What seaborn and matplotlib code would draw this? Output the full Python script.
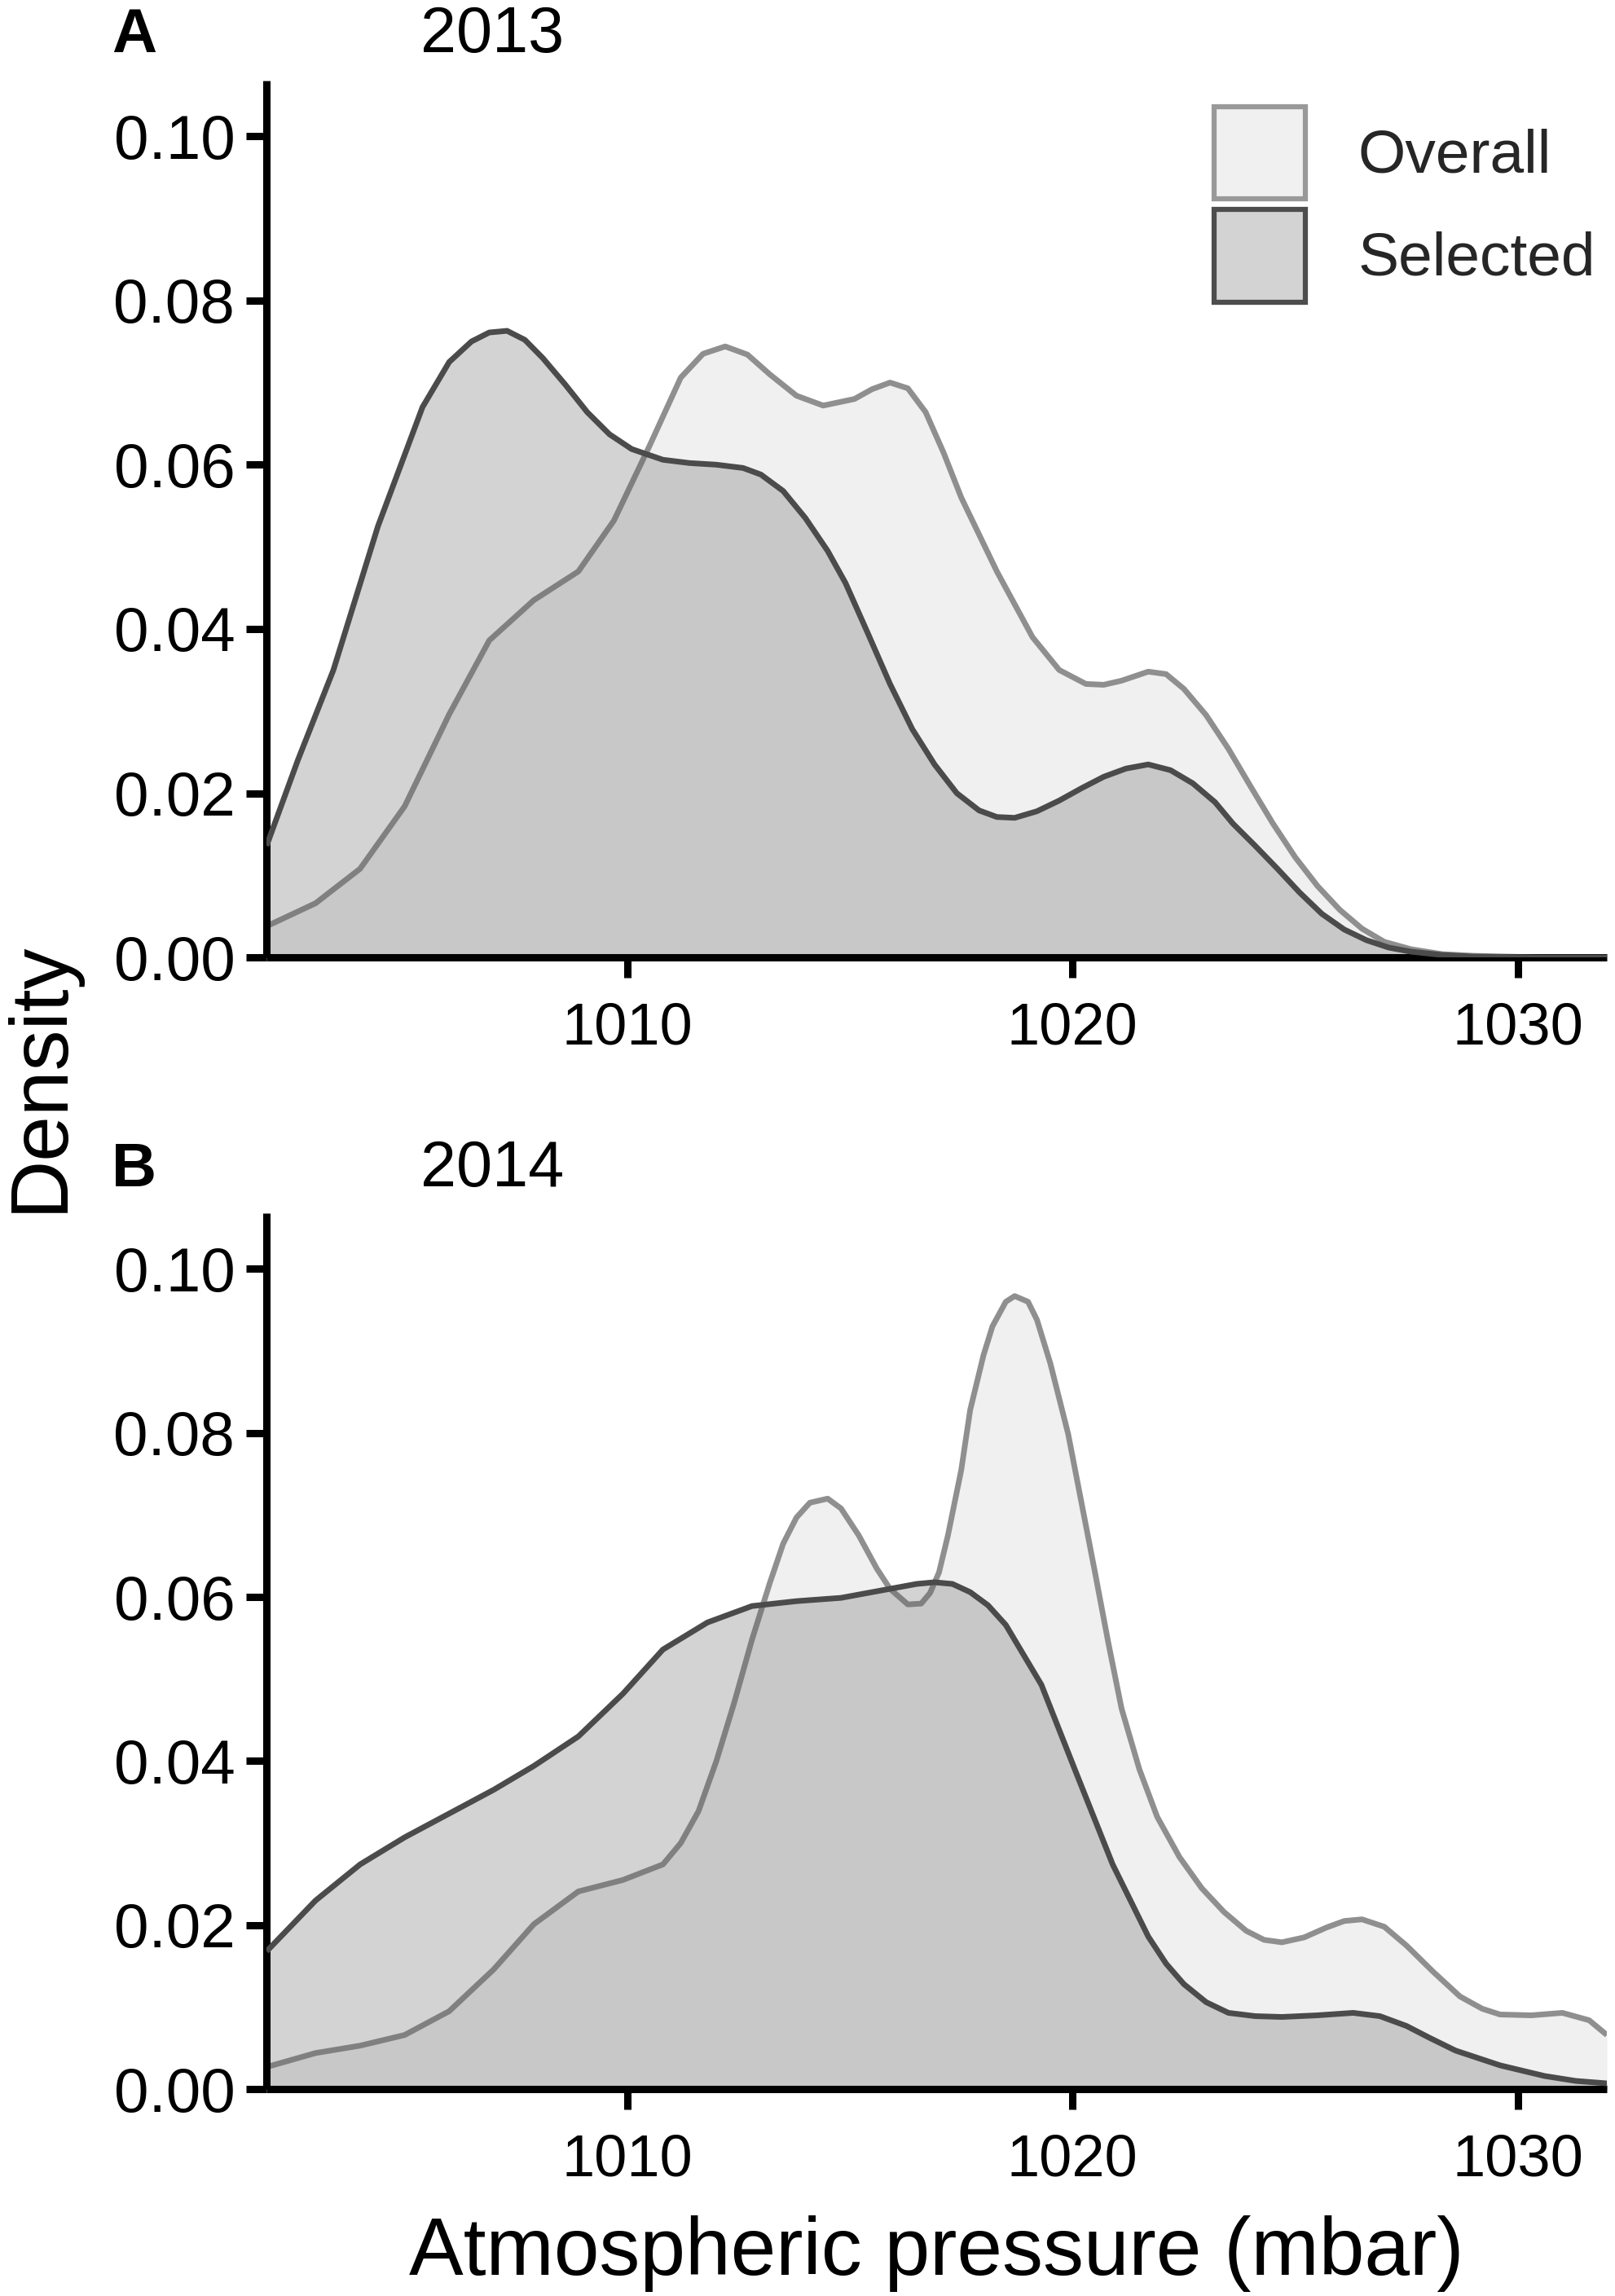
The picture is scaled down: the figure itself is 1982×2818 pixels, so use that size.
import numpy as np
import pandas as pd
import matplotlib
matplotlib.use("Agg")
import matplotlib.pyplot as plt
from matplotlib.patches import Patch
from matplotlib.ticker import FormatStrFormatter
import seaborn as sns

# ---------------- data ----------------
sel13_x = [1001.9, 1002.6, 1003.4, 1004.4, 1005.4, 1006.0, 1006.5, 1006.9, 1007.3, 1007.7,
           1008.1, 1008.6, 1009.1, 1009.6, 1010.1, 1010.8, 1011.4, 1012.0, 1012.6, 1013.0,
           1013.5, 1014.0, 1014.5, 1014.9, 1015.4, 1015.9, 1016.4, 1016.9, 1017.4, 1017.9,
           1018.3, 1018.7, 1019.2, 1019.7, 1020.2, 1020.7, 1021.2, 1021.7, 1022.2, 1022.7,
           1023.2, 1023.6, 1024.1, 1024.6, 1025.1, 1025.6, 1026.1, 1026.6, 1027.1, 1027.6,
           1028.3, 1029.0, 1030.5, 1032.0]
sel13_y = [0.0136, 0.0240, 0.0350, 0.0525, 0.0670, 0.0725, 0.0750, 0.0761, 0.0763, 0.0752,
           0.0730, 0.0698, 0.0664, 0.0637, 0.0619, 0.0606, 0.0602, 0.0600, 0.0596, 0.0588,
           0.0568, 0.0535, 0.0495, 0.0456, 0.0395, 0.0333, 0.0278, 0.0235, 0.0200, 0.0179,
           0.0171, 0.0170, 0.0178, 0.0191, 0.0206, 0.0220, 0.0230, 0.0235, 0.0228, 0.0212,
           0.0189, 0.0163, 0.0136, 0.0108, 0.0079, 0.0053, 0.0034, 0.0021, 0.0012, 0.0007,
           0.0003, 0.0001, 0.0, 0.0]

ovr13_x = [1001.9, 1003.0, 1004.0, 1005.0, 1006.0, 1006.9, 1007.9, 1008.9, 1009.7, 1010.5,
           1011.2, 1011.7, 1012.2, 1012.7, 1013.2, 1013.8, 1014.4, 1015.1, 1015.5, 1015.9,
           1016.3, 1016.7, 1017.1, 1017.5, 1018.3, 1019.1, 1019.7, 1020.3, 1020.7, 1021.1,
           1021.7, 1022.1, 1022.5, 1023.0, 1023.5, 1024.0, 1024.5, 1025.0, 1025.5, 1026.0,
           1026.5, 1027.0, 1027.6, 1028.3, 1029.0, 1030.5, 1032.0]
ovr13_y = [0.0038, 0.0066, 0.0108, 0.0184, 0.0296, 0.0386, 0.0435, 0.0470, 0.0532, 0.0623,
           0.0706, 0.0735, 0.0744, 0.0734, 0.0710, 0.0684, 0.0672, 0.0680, 0.0692, 0.0700,
           0.0693, 0.0664, 0.0615, 0.0560, 0.0470, 0.0390, 0.0350, 0.0333, 0.0332, 0.0337,
           0.0348, 0.0345, 0.0327, 0.0295, 0.0254, 0.0208, 0.0163, 0.0122, 0.0087, 0.0058,
           0.0035, 0.0019, 0.0010, 0.0004, 0.0002, 0.0, 0.0]

sel14_x = [1001.9, 1003.0, 1004.0, 1005.0, 1006.0, 1007.0, 1007.9, 1008.9, 1009.9, 1010.8,
           1011.8, 1012.8, 1013.8, 1014.8, 1015.9, 1016.5, 1016.9, 1017.3, 1017.7, 1018.1,
           1018.5, 1019.3, 1020.1, 1020.9, 1021.7, 1022.1, 1022.5, 1023.0, 1023.5, 1024.1,
           1024.7, 1025.5, 1026.3, 1026.9, 1027.5, 1028.0, 1028.6, 1029.6, 1030.6, 1031.3,
           1032.0]
sel14_y = [0.0168, 0.0230, 0.0274, 0.0307, 0.0336, 0.0365, 0.0394, 0.0430, 0.0482, 0.0536,
           0.0569, 0.0589, 0.0595, 0.0599, 0.0610, 0.0616, 0.0618, 0.0616, 0.0606, 0.0590,
           0.0566, 0.0493, 0.0383, 0.0274, 0.0186, 0.0153, 0.0128, 0.0106, 0.0093, 0.0089,
           0.0088, 0.0090, 0.0093, 0.0089, 0.0077, 0.0063, 0.0047, 0.0029, 0.0016, 0.0010,
           0.0007]

ovr14_x = [1001.9, 1003.0, 1004.0, 1005.0, 1006.0, 1007.0, 1007.9, 1008.9, 1009.9, 1010.8,
           1011.2, 1011.6, 1012.0, 1012.4, 1012.8, 1013.2, 1013.5, 1013.8, 1014.1, 1014.5,
           1014.8, 1015.2, 1015.6, 1015.9, 1016.3, 1016.6, 1016.8, 1017.0, 1017.2, 1017.5,
           1017.7, 1018.0, 1018.2, 1018.5, 1018.7, 1019.0, 1019.2, 1019.5, 1019.9, 1020.2,
           1020.5, 1020.8, 1021.1, 1021.5, 1021.9, 1022.4, 1022.9, 1023.4, 1023.9, 1024.3,
           1024.7, 1025.2, 1025.7, 1026.1, 1026.5, 1027.0, 1027.5, 1028.1, 1028.7, 1029.2,
           1029.6, 1030.3, 1031.0, 1031.6, 1032.0]
ovr14_y = [0.0027, 0.0044, 0.0053, 0.0066, 0.0095, 0.0146, 0.0201, 0.0241, 0.0255, 0.0274,
           0.0300, 0.0339, 0.0400, 0.0471, 0.0548, 0.0617, 0.0665, 0.0697, 0.0715, 0.0720,
           0.0708, 0.0675, 0.0635, 0.0610, 0.0591, 0.0592, 0.0605, 0.0630, 0.0675, 0.0755,
           0.0828, 0.0895, 0.0930, 0.0960, 0.0967, 0.0960, 0.0938, 0.0885, 0.0799, 0.0715,
           0.0631, 0.0545, 0.0464, 0.0390, 0.0332, 0.0283, 0.0245, 0.0216, 0.0193, 0.0182,
           0.0179, 0.0185, 0.0197, 0.0205, 0.0207, 0.0198, 0.0175, 0.0143, 0.0113, 0.0098,
           0.0091, 0.0090, 0.0093, 0.0084, 0.0066]

groups = ["Overall", "Selected"]
panel_letters = ["A", "B"]
panel_years = ["2013", "2014"]
x_ticks = [1010, 1020, 1030]
y_ticks = [0.00, 0.02, 0.04, 0.06, 0.08, 0.10]
x_label = "Atmospheric pressure (mbar)"
y_label = "Density"

# ---------------- styling ----------------
sns.set_theme(style="ticks")
plt.rcParams["font.family"] = ["Liberation Sans", "DejaVu Sans"]

line_col = {"Overall": "#8f8f8f", "Selected": "#4b4b4b"}
ovr_fill = "#f0f0f0"
sel_fill = "#5a5a5a"
sel_alpha = 0.267
curve_lw = 5.0
axis_lw = 6.5

fig = plt.figure(figsize=(19.83, 28.18), dpi=100)
left, right = 0.165, 0.9945
axA = fig.add_axes([left, 0.583, right - left, 0.965 - 0.583])
axB = fig.add_axes([left, 0.0901, right - left, 0.4716 - 0.0901])

panels = [
    (axA, ovr13_x, ovr13_y, sel13_x, sel13_y),
    (axB, ovr14_x, ovr14_y, sel14_x, sel14_y),
]
title_y = [1 - 64 / 2818, 1 - 1456 / 2818]

for i, (ax, ox, oy, sx, sy) in enumerate(panels):
    df = pd.concat([
        pd.DataFrame({"x": ox, "y": oy, "g": "Overall"}),
        pd.DataFrame({"x": sx, "y": sy, "g": "Selected"}),
    ], ignore_index=True)
    ax.fill_between(ox, oy, 0, color=ovr_fill, lw=0, zorder=1)
    ax.fill_between(sx, sy, 0, color=sel_fill, alpha=sel_alpha, lw=0, zorder=2)
    sns.lineplot(data=df[df.g == "Overall"], x="x", y="y", color=line_col["Overall"],
                 lw=curve_lw, ax=ax, zorder=1.5, legend=False, sort=True,
                 solid_joinstyle="round", solid_capstyle="butt")
    sns.lineplot(data=df[df.g == "Selected"], x="x", y="y", color=line_col["Selected"],
                 lw=curve_lw, ax=ax, zorder=3, legend=False, sort=True,
                 solid_joinstyle="round", solid_capstyle="butt")
    ax.set_xlim(1001.9, 1032.0)
    ax.set_ylim(0, 0.1068)
    ax.set_xticks(x_ticks)
    ax.set_yticks(y_ticks)
    ax.yaxis.set_major_formatter(FormatStrFormatter("%.2f"))
    ax.tick_params(axis="both", length=18, width=axis_lw, color="black",
                   labelcolor="black")
    ax.tick_params(axis="y", labelsize=55, pad=10)
    ax.tick_params(axis="x", labelsize=52, pad=21)
    sns.despine(ax=ax)
    for s in ["left", "bottom"]:
        ax.spines[s].set_linewidth(axis_lw)
        ax.spines[s].set_color("black")
        ax.spines[s].set_capstyle("butt")
    ax.set_ylabel("")
    ax.set_xlabel("")
    ax.set_facecolor("white")
    fig.text(0.260, title_y[i], panel_years[i], fontsize=57, ha="left",
             va="baseline", color="black")
    fig.text(0.069, title_y[i], panel_letters[i], fontsize=55, fontweight="bold",
             ha="left", va="baseline", color="black")

axB.set_xlabel(x_label, fontsize=72, labelpad=24, color="black")
fig.text(0.025, 0.531, y_label, rotation=90, fontsize=72, ha="center", va="center",
         color="black")

handles = [
    Patch(facecolor=ovr_fill, edgecolor="#999999", linewidth=4.5, label="Overall"),
    Patch(facecolor="#d3d3d3", edgecolor="#4d4d4d", linewidth=4.5, label="Selected"),
]
fig.legend(handles=handles, loc="upper left", bbox_to_anchor=(1490 / 1983, 1 - 131 / 2818),
           frameon=False, fontsize=54, handlelength=1.5, handleheight=1.95,
           handletextpad=0.85, labelspacing=0.17, borderpad=0, borderaxespad=0)

fig.savefig("out.png", dpi=100, facecolor="white")
